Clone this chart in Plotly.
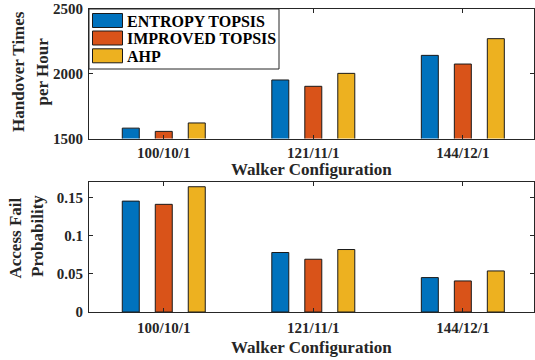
import plotly.graph_objects as go
from plotly.subplots import make_subplots

categories = ["100/10/1", "121/11/1", "144/12/1"]
series_names = ["ENTROPY TOPSIS", "IMPROVED TOPSIS", "AHP"]
handover = [
    [1580, 1952, 2142],
    [1555, 1903, 2075],
    [1620, 2003, 2271],
]
access_fail = [
    [0.145, 0.0778, 0.045],
    [0.1408, 0.069, 0.0406],
    [0.1638, 0.0817, 0.0537],
]
colors = ["#0072BD", "#D95319", "#EDB120"]

W, H = 535, 360
L, R, T, B = 89, 1, 9, 48
PW, PH = W - L - R, H - T - B


def px_x(p):
    return (p - L) / PW


def px_y(p):
    return (H - B - p) / PH


FONT = "Liberation Serif"
TXT = "#262626"

fig = make_subplots(rows=2, cols=1, vertical_spacing=0.1)

for i, name in enumerate(series_names):
    fig.add_trace(go.Bar(x=categories, y=handover[i], name=name,
                         marker=dict(color=colors[i], line=dict(color="#1a1a1a", width=1)),
                         showlegend=False), row=1, col=1)
    fig.add_trace(go.Bar(x=categories, y=access_fail[i], name=name,
                         marker=dict(color=colors[i], line=dict(color="#1a1a1a", width=1)),
                         showlegend=False), row=2, col=1)

top_dom = [px_y(138.5), 1.0]
bot_dom = [0.0, px_y(182)]

axis_common = dict(showline=True, linecolor="#262626", linewidth=1, mirror="ticks",
                   ticks="inside", ticklen=4, tickcolor="#262626", showgrid=False,
                   zeroline=False,
                   tickfont=dict(family=FONT, size=15, color=TXT, weight="bold"))

fig.update_xaxes(**axis_common, range=[-0.5, 2.476])
fig.update_yaxes(**axis_common, ticklabelstandoff=2)

fig.update_layout(
    xaxis=dict(domain=[0, 1], ticklabelstandoff=0),
    xaxis2=dict(domain=[0, 1], ticklabelstandoff=2),
    yaxis=dict(domain=top_dom, range=[1500, 2500], tickvals=[1500, 2000, 2500]),
    yaxis2=dict(domain=bot_dom, range=[0, 0.17], tickvals=[0, 0.05, 0.1, 0.15],
                ticktext=["0", "0.05", "0.1", "0.15"]),
    barmode="group", bargap=0.338, bargroupgap=0.485,
    width=W, height=H, margin=dict(l=L, r=R, t=T, b=B),
    paper_bgcolor="white", plot_bgcolor="white",
    font=dict(family=FONT, color=TXT),
)

ann = []
shapes = []
# axis titles
ann.append(dict(text="<b>Walker Configuration</b>", xref="paper", yref="paper",
                x=0.5, y=px_y(169.5), xanchor="center", yanchor="middle", showarrow=False,
                font=dict(family=FONT, size=17, color=TXT)))
ann.append(dict(text="<b>Walker Configuration</b>", xref="paper", yref="paper",
                x=0.5, y=px_y(347), xanchor="center", yanchor="middle", showarrow=False,
                font=dict(family=FONT, size=17, color=TXT)))
ann.append(dict(text="<b>Handover Times</b>", xref="paper", yref="paper",
                x=px_x(18.5), y=px_y(71.5), xanchor="center", yanchor="middle", showarrow=False,
                textangle=-90, font=dict(family=FONT, size=17, color=TXT)))
ann.append(dict(text="<b>per Hour</b>", xref="paper", yref="paper",
                x=px_x(42), y=px_y(71.5), xanchor="center", yanchor="middle", showarrow=False,
                textangle=-90, font=dict(family=FONT, size=17, color=TXT)))
ann.append(dict(text="<b>Access Fail</b>", xref="paper", yref="paper",
                x=px_x(15.5), y=px_y(238), xanchor="center", yanchor="middle", showarrow=False,
                textangle=-90, font=dict(family=FONT, size=17, color=TXT)))
ann.append(dict(text="<b>Probability</b>", xref="paper", yref="paper",
                x=px_x(37), y=px_y(236), xanchor="center", yanchor="middle", showarrow=False,
                textangle=-90, font=dict(family=FONT, size=17, color=TXT)))

# custom legend
shapes.append(dict(type="rect", xref="paper", yref="paper",
                   x0=px_x(89), x1=px_x(279), y0=px_y(69), y1=px_y(9),
                   line=dict(color="#262626", width=1), fillcolor="white", layer="above"))
row_centers = [20.5, 38, 55.8]
for i, name in enumerate(series_names):
    yc = row_centers[i]
    shapes.append(dict(type="rect", xref="paper", yref="paper",
                       x0=px_x(92.5), x1=px_x(122.5), y0=px_y(yc + 7), y1=px_y(yc - 7),
                       line=dict(color="#1a1a1a", width=1), fillcolor=colors[i], layer="above"))
    ann.append(dict(text="<b>" + name + "</b>", xref="paper", yref="paper",
                    x=px_x(124.5), y=px_y(yc + 0.5), xanchor="left", yanchor="middle",
                    showarrow=False, font=dict(family=FONT, size=16, color="black")))

fig.update_layout(annotations=ann, shapes=shapes)
fig.write_html("out.html", config={"displayModeBar": False},
               post_script="document.body.style.margin='0px';document.body.style.padding='0px';")
